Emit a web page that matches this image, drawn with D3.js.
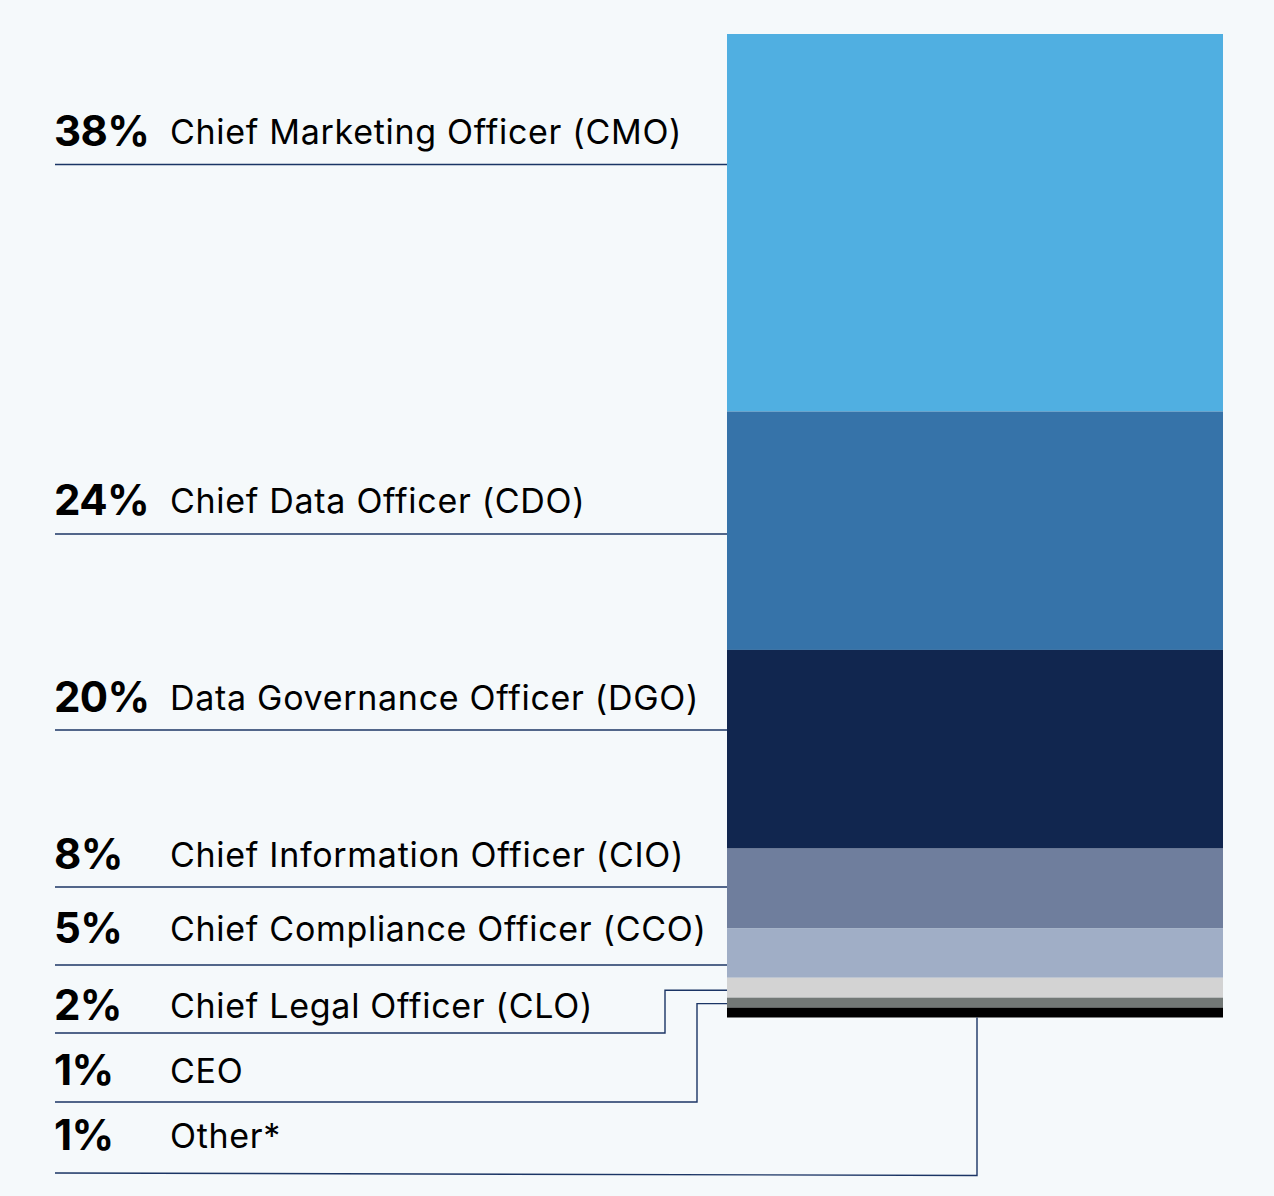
<!DOCTYPE html>
<html>
<head>
<meta charset="utf-8">
<script src="https://cdn.jsdelivr.net/npm/d3@7"></script>
<style>
  html, body { margin: 0; padding: 0; background: #F5F9FB; }
  svg { display: block; }
  text { font-family: Inter, "Noto Sans", sans-serif; fill: #000; }
</style>
</head>
<body>
<svg id="chart" width="1274" height="1196"></svg>
<script>
// ---- data ----
const categories = [
  "Chief Marketing Officer (CMO)",
  "Chief Data Officer (CDO)",
  "Data Governance Officer (DGO)",
  "Chief Information Officer (CIO)",
  "Chief Compliance Officer (CCO)",
  "Chief Legal Officer (CLO)",
  "CEO",
  "Other*"
];
const values = [38, 24, 20, 8, 5, 2, 1, 1];
const percentLabels = ["38%", "24%", "20%", "8%", "5%", "2%", "1%", "1%"];
const colors = ["#50AFE1", "#3673A9", "#11264F", "#6F7E9D", "#A0AEC6", "#D3D3D3", "#727876", "#000000"];

// ---- layout (pixels) ----
const lineY = [164.5, 534, 730, 887, 965, 1033, 1102, 1175.5];   // leader underline y per row (at bar end)
const lineYStart = [164.5, 534, 730, 887, 965, 1033, 1102, 1173]; // leader underline y at left end
const baselineGap = [18, 18, 17, 17, 21, 12, 16, 22];             // text baseline above underline
const elbowX = [null, null, null, null, null, 665, 697, 977];     // elbow x for stepped leaders

const svg = d3.select("#chart");
const barX0 = 727, barX1 = 1223, lineX = 55, textX = 54, nameX = 170;

const total = d3.sum(values);
const y = d3.scaleLinear().domain([0, total]).range([34, 1017.5]);

// cumulative stacking
const stack = [];
let acc = 0;
values.forEach((v, i) => { stack.push({ i, y0: acc, y1: acc + v, v }); acc += v; });

// bars
svg.append("g").selectAll("rect").data(stack).join("rect")
  .attr("x", barX0)
  .attr("width", barX1 - barX0)
  .attr("y", d => y(d.y0))
  .attr("height", d => y(d.y1) - y(d.y0))
  .attr("fill", d => colors[d.i]);

// leader lines
const lineColor = "#1B3565";
const lg = svg.append("g").attr("fill", "none").attr("stroke", lineColor).attr("stroke-width", 1.4);
stack.forEach(d => {
  const ly = lineY[d.i], ly0 = lineYStart[d.i];
  let pts;
  if (elbowX[d.i] == null) {
    pts = [[lineX, ly0], [barX0, ly]];
  } else if (d.i === stack.length - 1) {
    pts = [[lineX, ly0], [elbowX[d.i], ly], [elbowX[d.i], y(d.y1)]];
  } else {
    const my = (y(d.y0) + y(d.y1)) / 2 + (d.i === 5 ? 2.5 : 1);
    pts = [[lineX, ly0], [elbowX[d.i], ly], [elbowX[d.i], my], [barX0, my]];
  }
  lg.append("path").attr("d", d3.line()(pts));
});

// labels
const tg = svg.append("g");
stack.forEach(d => {
  const by = lineYStart[d.i] - baselineGap[d.i];
  tg.append("text")
    .attr("x", textX).attr("y", by - 1)
    .attr("font-size", 42).attr("font-weight", 700)
    .attr("letter-spacing", "-0.6")
    .text(percentLabels[d.i]);
  tg.append("text")
    .attr("x", nameX).attr("y", by - 3)
    .attr("font-size", 34).attr("font-weight", 400)
    .attr("letter-spacing", "0.7")
    .text(categories[d.i]);
});
</script>
</body>
</html>
